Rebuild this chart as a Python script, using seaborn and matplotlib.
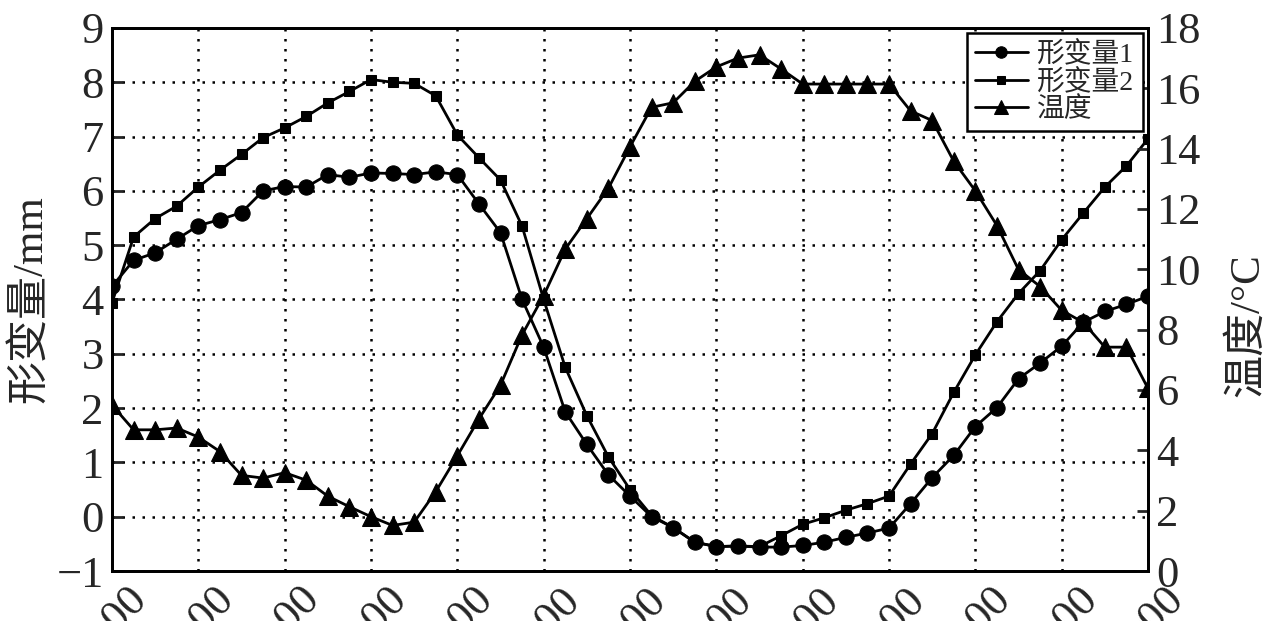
import numpy as np
import pandas as pd
import seaborn as sns
import matplotlib.pyplot as plt
import matplotlib.transforms as mtransforms

sns.set_style("white")
plt.rcParams['font.family'] = ['Liberation Serif', 'Noto Sans CJK SC']
plt.rcParams['axes.unicode_minus'] = True

# 49 samples, 4 per labelled interval
time_labels = ["0:00", "2:00", "4:00", "6:00", "8:00", "10:00", "12:00",
               "14:00", "16:00", "18:00", "20:00", "22:00", "24:00"]

deform1 = [4.24, 4.72, 4.86, 5.11, 5.36, 5.47, 5.60, 6.00, 6.08, 6.07,
           6.30, 6.25, 6.33, 6.32, 6.30, 6.35, 6.30, 5.76, 5.23, 4.00,
           3.12, 1.93, 1.33, 0.77, 0.38, 0.00, -0.20, -0.47, -0.55, -0.54,
           -0.56, -0.56, -0.53, -0.47, -0.38, -0.30, -0.21, 0.24, 0.72, 1.13,
           1.66, 2.01, 2.54, 2.83, 3.14, 3.58, 3.78, 3.91, 4.06]

deform2 = [3.94, 5.15, 5.49, 5.72, 6.07, 6.38, 6.67, 6.98, 7.16, 7.37,
           7.62, 7.83, 8.05, 8.00, 7.98, 7.75, 7.03, 6.61, 6.20, 5.35,
           4.00, 2.75, 1.86, 1.10, 0.50, 0.02, -0.20, -0.47, -0.55, -0.54,
           -0.55, -0.35, -0.14, -0.02, 0.12, 0.24, 0.38, 0.97, 1.53, 2.29,
           2.98, 3.59, 4.11, 4.53, 5.10, 5.59, 6.07, 6.46, 6.96]

temperature = [5.50, 4.68, 4.68, 4.74, 4.44, 3.96, 3.17, 3.08, 3.26, 3.01,
               2.48, 2.13, 1.80, 1.51, 1.62, 2.63, 3.82, 5.04, 6.16, 7.83,
               9.13, 10.67, 11.68, 12.69, 14.06, 15.37, 15.52, 16.23, 16.71, 17.00,
               17.11, 16.64, 16.14, 16.14, 16.14, 16.14, 16.14, 15.25, 14.93, 13.58,
               12.60, 11.45, 9.99, 9.43, 8.64, 8.24, 7.42, 7.42, 6.05]

df = pd.DataFrame({
    't': np.arange(len(deform1)),
    'd1': deform1,
    'd2': deform2,
    'temp': temperature,
})

fig = plt.figure(figsize=(12.8, 6.21), dpi=100)
ax = fig.add_axes([0.0875, 0.0805, 0.8094, 0.8745])

sns.lineplot(data=df, x='t', y='d1', ax=ax, color='black', lw=2,
             marker='o', markersize=11, markeredgecolor='black', label='形变量1')
sns.lineplot(data=df, x='t', y='d2', ax=ax, color='black', lw=2,
             marker='s', markersize=7.5, markeredgecolor='black', label='形变量2')

ax2 = ax.twinx()
sns.lineplot(data=df, x='t', y='temp', ax=ax2, color='black', lw=2,
             marker='^', markersize=13, markeredgecolor='black', label='温度')

ax.set_xlim(0, 48)
ax.set_ylim(-1, 9)
ax2.set_ylim(0, 18)
ax.set_yticks(range(-1, 10))
ax2.set_yticks(range(0, 19, 2))
ax.set_xticks(range(0, 49, 4))

ax.grid(True, color='black', linestyle=(0, (1, 3)), lw=1.8)
ax.tick_params(axis='both', direction='in', length=8, width=2, labelsize=32,
               top=False, right=False, pad=6)
ax2.tick_params(axis='y', direction='in', length=8, width=2, labelsize=32, pad=6)

# rotated time labels, pushed down-right so only their ends show
ax.set_xticklabels(time_labels, rotation=45, ha='right', va='center',
                   rotation_mode='anchor')
offset = mtransforms.ScaledTranslation(21 / 72, -10 / 72, fig.dpi_scale_trans)
for tick in ax.xaxis.get_major_ticks():
    tick.label1.set_transform(tick.label1.get_transform() + offset)

for a in (ax, ax2):
    for s in a.spines.values():
        s.set_linewidth(2)
        s.set_color('black')

ax.set_xlabel('')
ax.set_ylabel('形变量/mm', fontsize=31)
ax.yaxis.set_label_coords(-0.060, 0.50)
ax2.set_ylabel('温度/°C', fontsize=31)
ax2.yaxis.set_label_coords(1.077, 0.453)

h1, l1 = ax.get_legend_handles_labels()
h2, l2 = ax2.get_legend_handles_labels()
ax.get_legend().remove()
leg = ax2.legend(h1 + h2, l1 + l2, loc='upper right', bbox_to_anchor=(0.995, 0.991),
                 borderaxespad=0, fontsize=20, frameon=True, fancybox=False,
                 edgecolor='black', framealpha=1, handlelength=1.9,
                 handletextpad=0.35, labelspacing=0.05, borderpad=0.3, markerscale=0.75)
leg.get_frame().set_linewidth(1.8)

fig.savefig('out.png', dpi=100)
